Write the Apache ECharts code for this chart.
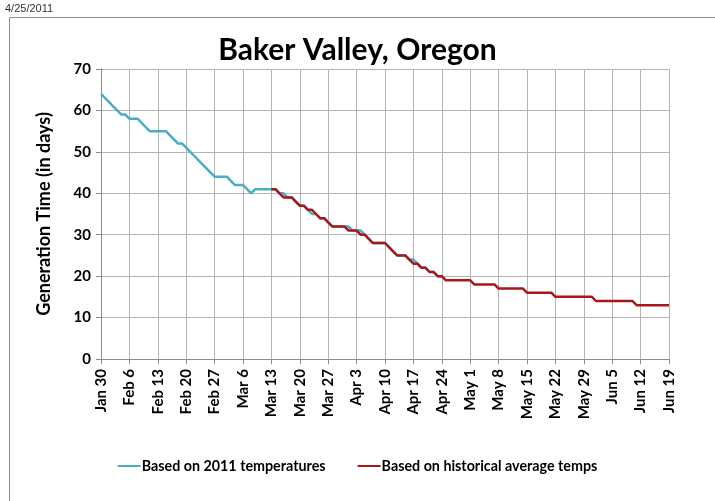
<!DOCTYPE html>
<html>
<head>
<meta charset="utf-8">
<script src="https://cdn.jsdelivr.net/npm/echarts@6/dist/echarts.min.js"></script>
<style>
  html, body { margin: 0; padding: 0; background: #fff; }
  #chart { width: 715px; height: 501px; }
</style>
</head>
<body>
<div id="chart"></div>
<script>
// daily categories, Jan 30 .. Jun 19 (2011)
var startDate = new Date(2011, 0, 30);
var dayCount = 141;
var monthNames = ['Jan', 'Feb', 'Mar', 'Apr', 'May', 'Jun', 'Jul', 'Aug', 'Sep', 'Oct', 'Nov', 'Dec'];

// generation time, based on 2011 temperatures (Jan 30 .. Apr 24)
var temps2011 = [
    64, 63, 62, 61, 60, 59, 59, 58, 58, 58,
    57, 56, 55, 55, 55, 55, 55, 54, 53, 52,
    52, 51, 50, 49, 48, 47, 46, 45, 44, 44,
    44, 44, 43, 42, 42, 42, 41, 40, 41, 41,
    41, 41, 41, 41, 40, 40, 39, 39, 38, 37,
    37, 36, 35, 35, 34, 34, 33, 32, 32, 32,
    32, 32, 31, 31, 31, 30, 29, 28, 28, 28,
    28, 27, 26, 25, 25, 25, 24, 24, 23, 22,
    22, 21, 21, 20, 20
];

// generation time, based on historical average temps (Mar 13 .. Jun 19)
var historicalStart = 42;
var historical = [
    41, 41, 40, 39, 39, 39, 38, 37,
    37, 36, 36, 35, 34, 34, 33, 32, 32, 32,
    32, 31, 31, 31, 30, 30, 29, 28, 28, 28,
    28, 27, 26, 25, 25, 25, 24, 23, 23, 22,
    22, 21, 21, 20, 20,
    19, 19, 19, 19, 19, 19, 19,
    18, 18, 18, 18, 18, 18,
    17, 17, 17, 17, 17, 17, 17,
    16, 16, 16, 16, 16, 16, 16,
    15, 15, 15, 15, 15, 15, 15, 15, 15, 15,
    14, 14, 14, 14, 14, 14, 14, 14, 14, 14,
    13, 13, 13, 13, 13, 13, 13, 13, 13
];

var days = [];
for (var i = 0; i < dayCount; i++) {
    var d = new Date(startDate.getTime());
    d.setDate(d.getDate() + i);
    days.push(monthNames[d.getMonth()] + ' ' + d.getDate());
}

var blueData = days.map(function (_, i) {
    return i < temps2011.length ? temps2011[i] : null;
});
var redData = days.map(function (_, i) {
    var k = i - historicalStart;
    return (k >= 0 && k < historical.length) ? historical[k] : null;
});

var fontMain = 'Lato, "Open Sans", sans-serif';

var option = {
    animation: false,
    backgroundColor: '#fff',
    graphic: [
        {
            type: 'rect',
            shape: { x: 9.5, y: 17.5, width: 720, height: 500 },
            style: { fill: 'none', stroke: '#8c8c8c', lineWidth: 1 }
        },
        {
            type: 'text',
            left: 5,
            top: 3,
            style: { text: '4/25/2011', font: '11px "Liberation Sans", Arial, sans-serif', fill: '#333' }
        }
    ],
    title: {
        text: 'Baker Valley, Oregon',
        left: 'center',
        top: 30,
        textStyle: { fontFamily: fontMain, fontWeight: 'bold', fontSize: 30, color: '#000' }
    },
    legend: {
        bottom: 23,
        left: 'center',
        itemGap: 32,
        itemWidth: 23,
        itemHeight: 2,
        icon: 'rect',
        textStyle: { fontFamily: fontMain, fontWeight: 'bold', fontSize: 14.3, color: '#000', padding: [0, 0, 0, -4] },
        data: ['Based on 2011 temperatures', 'Based on historical average temps']
    },
    grid: {
        left: 101,
        right: 46,
        top: 69,
        bottom: 142
    },
    xAxis: {
        type: 'category',
        data: days,
        boundaryGap: false,
        axisLine: { lineStyle: { color: '#8c8c8c' } },
        axisTick: { interval: 6, length: 5, lineStyle: { color: '#8c8c8c' } },
        splitLine: { show: true, interval: 6, lineStyle: { color: '#b4b4b4' } },
        axisLabel: {
            interval: 6,
            rotate: 90,
            margin: 10,
            fontFamily: fontMain,
            fontWeight: 'bold',
            fontSize: 15,
            color: '#000'
        }
    },
    yAxis: {
        type: 'value',
        min: 0,
        max: 70,
        interval: 10,
        name: 'Generation Time (in days)',
        nameLocation: 'middle',
        nameRotate: 90,
        nameGap: 48,
        nameTextStyle: { fontFamily: fontMain, fontWeight: 'bold', fontSize: 18, color: '#000' },
        axisLine: { show: true, lineStyle: { color: '#8c8c8c' } },
        axisTick: { show: true, length: 5, lineStyle: { color: '#8c8c8c' } },
        splitLine: { show: true, lineStyle: { color: '#b4b4b4' } },
        axisLabel: {
            margin: 10,
            fontFamily: fontMain,
            fontWeight: 'bold',
            fontSize: 15,
            color: '#000'
        }
    },
    series: [
        {
            name: 'Based on 2011 temperatures',
            type: 'line',
            data: blueData,
            symbol: 'none',
            color: '#4AACC5',
            lineStyle: { width: 2.5, color: '#4AACC5' }
        },
        {
            name: 'Based on historical average temps',
            type: 'line',
            data: redData,
            symbol: 'none',
            color: '#A8171C',
            lineStyle: { width: 2.5, color: '#A8171C' }
        }
    ]
};

var chart = echarts.init(document.getElementById('chart'));
chart.setOption(option);
</script>
</body>
</html>
